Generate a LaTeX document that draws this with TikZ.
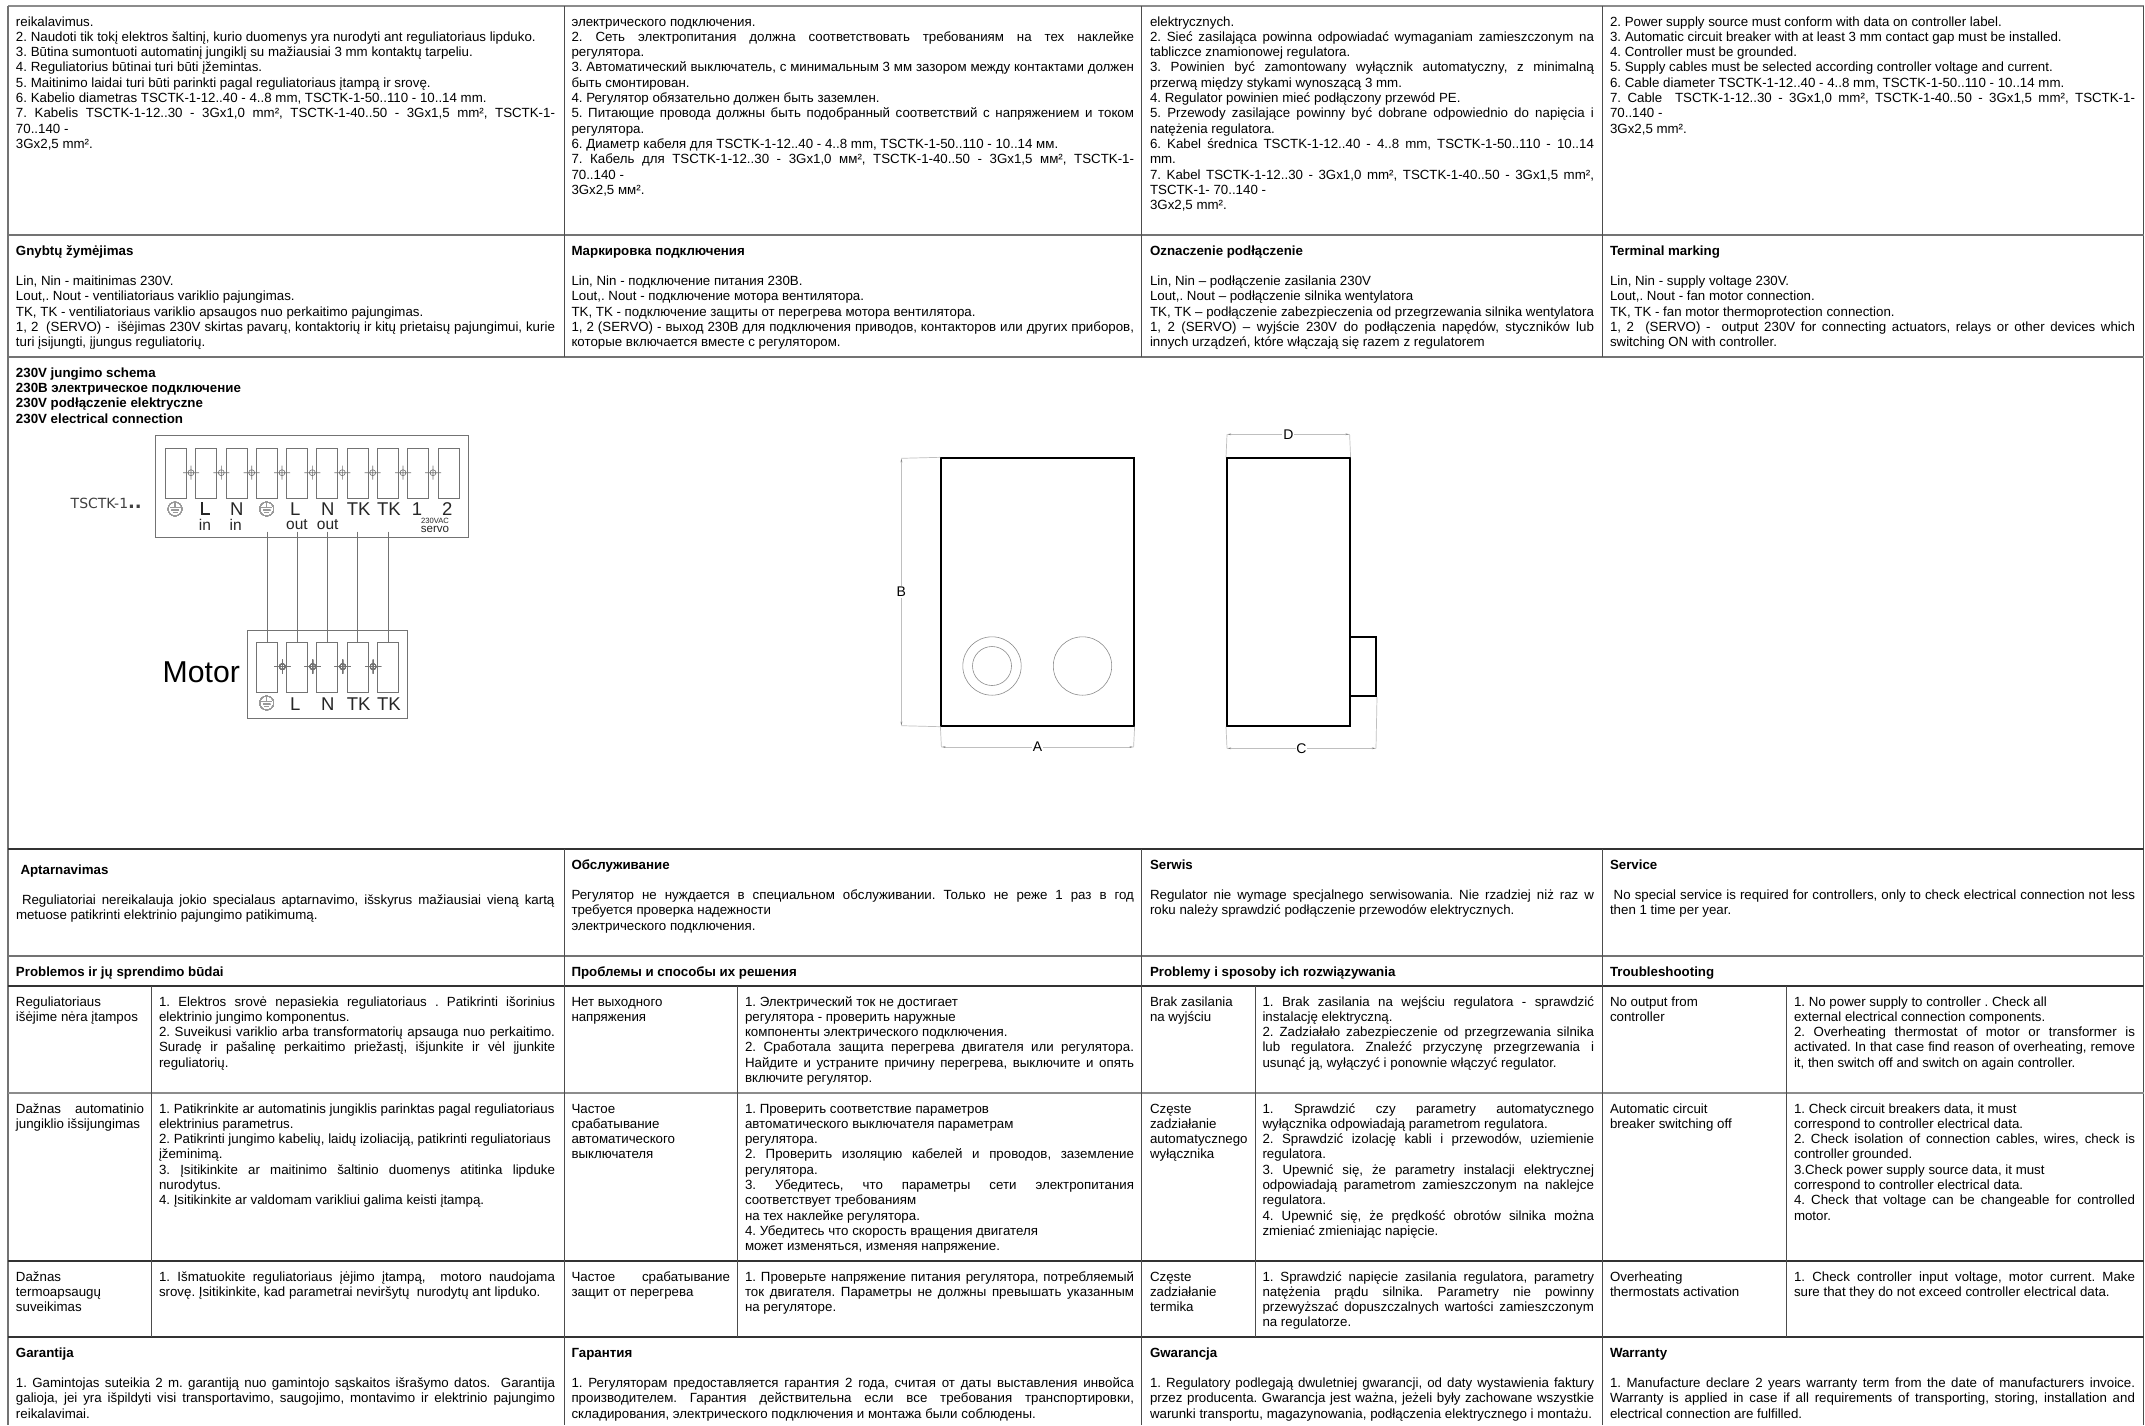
\documentclass[tikz,border=0pt]{standalone}
\usepackage{fontspec}
\setmainfont{Liberation Sans}
\newfontfamily\dejafont{DejaVu Sans}
\usetikzlibrary{arrows.meta}
\frenchspacing
\newcommand{\J}[1]{\hbox to \hsize{\rule{0pt}{10pt}#1}}
\newcommand{\R}[1]{\hbox{\rule{0pt}{10pt}#1}}
\newcommand{\Cell}[2]{\vtop{\hsize=#1pt\lineskiplimit=-100pt #2}}
\newcommand{\Screw}[2]{\draw[wire] (#1,#2) circle (3) (#1-8,#2) -- (#1+8,#2) (#1,#2-7) -- (#1,#2+7);}
\newcommand{\Gnd}[2]{\draw[gndline] (#1,#2) circle (7) (#1-5,#2-1.5) -- (#1+5,#2-1.5) (#1-3.5,#2+1) -- (#1+3.5,#2+1) (#1-2,#2+3.5) -- (#1+2,#2+3.5) (#1,#2-7) -- (#1,#2-1.5);}
\tikzset{
  x=1pt,y=-1pt,
  cell/.style={anchor=north west,inner sep=0pt,outer sep=0pt,font=\fontsize{13.3}{15.3}\selectfont},
  rowline/.style={draw=black!80,line width=1.4pt},
  softline/.style={draw=black!55,line width=1.6pt},
  colline/.style={draw=black!70,line width=1pt},
  wire/.style={draw=black!55,line width=0.6pt},
  gndline/.style={draw=black!40,line width=0.5pt},
  term/.style={draw=black!55,line width=0.7pt,minimum width=21pt,minimum height=50pt,inner sep=0pt},
  tlabel/.style={inner sep=0pt,font=\fontsize{18.5}{18.5}\selectfont,text=black!85},
  sublabel/.style={inner sep=0pt,font=\fontsize{15.5}{15.5}\selectfont,text=black!85},
  heavy/.style={draw=black,line width=2pt,inner sep=0pt},
  dim/.style={draw=black!25,line width=0.7pt},
  dimtip/.style={dim,{Stealth[length=4pt,width=1.6pt,color=black!50]}-{Stealth[length=4pt,width=1.6pt,color=black!50]}},
  dimlabel/.style={fill=white,inner sep=0.8pt,font=\fontsize{14}{14}\selectfont},
  hole/.style={draw=black!45,line width=0.6pt},
}
\begin{document}
\begin{tikzpicture}
\useasboundingbox (0,0) rectangle (2145,1425);
\fill[white] (0,0) rectangle (2145,1425);
% grid
\draw[draw=black!45,line width=1.4pt] (8,6) -- (2144,6);
\draw[draw=black!55,line width=1.8pt] (8,6) -- (8,1425);
\draw[colline] (2143.5,6) -- (2143.5,1425);
\draw[softline] (8,235) -- (2144,235);
\draw[softline] (8,357) -- (2144,357);
\draw[rowline] (8,849) -- (2144,849);
\draw[softline] (8,956) -- (2144,956);
\draw[rowline] (8,986) -- (2144,986);
\draw[softline,draw=black!45] (8,1093) -- (2144,1093);
\draw[rowline] (8,1261) -- (2144,1261);
\draw[rowline] (8,1337) -- (2144,1337);
\foreach \cx in {564,1141,1602} {
  \draw[colline] (\cx,6) -- (\cx,357);
  \draw[colline] (\cx,849) -- (\cx,1425);
}
\foreach \cx in {151,737,1255,1786} \draw[colline] (\cx,986) -- (\cx,1337);

% row 1
\node[cell] (a1) at (16,16) {\Cell{539}{
\R{reikalavimus.}
\R{2. Naudoti tik tokį elektros šaltinį, kurio duomenys yra nurodyti ant reguliatoriaus lipduko.}
\R{3. Būtina sumontuoti automatinį jungiklį su mažiausiai 3 mm kontaktų tarpeliu.}
\R{4. Reguliatorius būtinai turi būti įžemintas.}
\R{5. Maitinimo laidai turi būti parinkti pagal reguliatoriaus įtampą ir srovę.}
\R{6. Kabelio diametras TSCTK-1-12..40 - 4..8 mm, TSCTK-1-50..110 - 10..14 mm.}
\J{7. Kabelis TSCTK-1-12..30 - 3Gx1,0 mm², TSCTK-1-40..50 - 3Gx1,5 mm², TSCTK-1-}
\R{70..140 -}
\R{3Gx2,5 mm².}}};
\node[cell] (a2) at (571.5,16) {\Cell{562.5}{
\R{электрического подключения.}
\J{2. Сеть электропитания должна соответствовать требованиям на тех наклейке}
\R{регулятора.}
\J{3. Автоматический выключатель, с минимальным 3 мм зазором между контактами должен}
\R{быть смонтирован.}
\R{4. Регулятор обязательно должен быть заземлен.}
\J{5. Питающие провода должны быть подобранный соответствий с напряжением и током}
\R{регулятора.}
\R{6. Диаметр кабеля для TSCTK-1-12..40 - 4..8 mm, TSCTK-1-50..110 - 10..14 мм.}
\J{7. Кабель для TSCTK-1-12..30 - 3Gx1,0 мм², TSCTK-1-40..50 - 3Gx1,5 мм², TSCTK-1-}
\R{70..140 -}
\R{3Gx2,5 мм².}}};
\node[cell] (a3) at (1150,16) {\Cell{444}{
\R{elektrycznych.}
\J{2. Sieć zasilająca powinna odpowiadać wymaganiam zamieszczonym na}
\R{tabliczce znamionowej regulatora.}
\J{3. Powinien być zamontowany wyłącznik automatyczny, z minimalną}
\R{przerwą między stykami wynoszącą 3 mm.}
\R{4. Regulator powinien mieć podłączony przewód PE.}
\J{5. Przewody zasilające powinny być dobrane odpowiednio do napięcia i}
\R{natężenia regulatora.}
\J{6. Kabel średnica TSCTK-1-12..40 - 4..8 mm, TSCTK-1-50..110 - 10..14}
\R{mm.}
\J{7. Kabel TSCTK-1-12..30 - 3Gx1,0 mm², TSCTK-1-40..50 - 3Gx1,5 mm²,}
\R{TSCTK-1- 70..140 -}
\R{3Gx2,5 mm².}}};
\node[cell] (a4) at (1610,16) {\Cell{525}{
\R{2. Power supply source must conform with data on controller label.}
\R{3. Automatic circuit breaker with at least 3 mm contact gap must be installed.}
\R{4. Controller must be grounded.}
\R{5. Supply cables must be selected according controller voltage and current.}
\R{6. Cable diameter TSCTK-1-12..40 - 4..8 mm, TSCTK-1-50..110 - 10..14 mm.}
\J{7. Cable \ TSCTK-1-12..30 - 3Gx1,0 mm², TSCTK-1-40..50 - 3Gx1,5 mm², TSCTK-1-}
\R{70..140 -}
\R{3Gx2,5 mm².}}};

% row 2
\node[cell] (b1) at (16,245) {\Cell{539}{
\R{\textbf{Gnybtų žymėjimas}}
\R{}
\R{Lin, Nin - maitinimas 230V.}
\R{Lout,. Nout - ventiliatoriaus variklio pajungimas.}
\R{TK, TK - ventiliatoriaus variklio apsaugos nuo perkaitimo pajungimas.}
\J{1, 2 \ (SERVO) - \ išėjimas 230V skirtas pavarų, kontaktorių ir kitų prietaisų pajungimui, kurie}
\R{turi įsijungti, įjungus reguliatorių.}}};
\node[cell] (b2) at (571.5,245) {\Cell{562.5}{
\R{\textbf{Маркировка подключения}}
\R{}
\R{Lin, Nin - подключение питания 230В.}
\R{Lout,. Nout - подключение мотора вентилятора.}
\R{TK, TK - подключение защиты от перегрева мотора вентилятора.}
\J{1, 2 (SERVO) - выход 230В для подключения приводов, контакторов или других приборов,}
\R{которые включается вместе с регулятором.}}};
\node[cell] (b3) at (1150,245) {\Cell{444}{
\R{\textbf{Oznaczenie podłączenie}}
\R{}
\R{Lin, Nin – podłączenie zasilania 230V}
\R{Lout,. Nout – podłączenie silnika wentylatora}
\J{TK, TK – podłączenie zabezpieczenia od przegrzewania silnika wentylatora}
\J{1, 2 (SERVO) – wyjście 230V do podłączenia napędów, styczników lub}
\R{innych urządzeń, które włączają się razem z regulatorem}}};
\node[cell] (b4) at (1610,245) {\Cell{525}{
\R{\textbf{Terminal marking}}
\R{}
\R{Lin, Nin - supply voltage 230V.}
\R{Lout,. Nout - fan motor connection.}
\R{TK, TK - fan motor thermoprotection connection.}
\J{1, 2 \ (SERVO) - \ output 230V for connecting actuators, relays or other devices which}
\R{switching ON with controller.}}};

% diagram title
\node[cell] (title) at (16,367.3) {\Cell{500}{
\R{\textbf{230V jungimo schema}}
\R{\textbf{230В электрическое подключение}}
\R{\textbf{230V podłączenie elektryczne}}
\R{\textbf{230V electrical connection}}}};

% wiring diagram
\node[draw=black!55,line width=0.7pt,minimum width=312.6pt,minimum height=101.7pt,inner sep=0pt] (topbox) at (312,486.2) {};
\node[draw=black!55,line width=0.7pt,minimum width=160pt,minimum height=88.4pt,inner sep=0pt] (motbox) at (327.3,674.5) {};
\foreach \i/\cx in {1/175.8,2/206,3/236.7,4/267,5/297.3,6/327,7/357.8,8/387.8,9/418.3,10/448.8}
  \node[term] (t\i) at (\cx,473.3) {};
\foreach \i/\cx in {1/266.8,2/297.3,3/327,4/357.8,5/387.8}
  \node[term] (m\i) at (\cx,667.3) {};
\foreach \cx in {191,221.3,251.7,282,312.3,342.3,372.7,403,433} \Screw{\cx}{472.7}
\foreach \cx in {282.4,312.7,342.7,373.1} \Screw{\cx}{666.6}
\Gnd{175}{509}
\Gnd{266.7}{509}
\Gnd{266.7}{703}
\node[tlabel] (l1) at (204.7,509.5) {L};
\node[tlabel] (l2) at (236.7,509.5) {N};
\node[tlabel] (l3) at (295.3,509.5) {L};
\node[tlabel] (l4) at (327.7,509.5) {N};
\node[tlabel] (l5) at (358.7,509.5) {TK};
\node[tlabel] (l6) at (389,509.5) {TK};
\node[tlabel] (l7) at (417,509.5) {1};
\node[tlabel] (l8) at (447.3,509.5) {2};
\foreach \n/\cx/\txt in {s1/205/in,s2/235.7/in,s3/297/out,s4/327.7/out}
  \node[sublabel] (\n) at (\cx,524.5) {\txt};
\node[inner sep=0pt,font=\fontsize{7.6}{7.6}\selectfont,text=black!85] (v230) at (435,521) {230VAC};
\node[inner sep=0pt,font=\fontsize{11.6}{11.6}\selectfont,text=black!85] (servo) at (435,529) {servo};
\foreach \n/\cx/\txt in {k1/295.3/L,k2/327.7/N,k3/358.7/TK,k4/389/TK}
  \node[tlabel] (\n) at (\cx,703.7) {\txt};
\node[inner sep=0pt,anchor=west,font=\fontsize{14}{14}\selectfont\dejafont,text=black!75] (model) at (70.5,503) {TSCTK-1{\fontsize{18}{18}\selectfont\textbf{..}}};
\node[inner sep=0pt,anchor=west,font=\fontsize{30.2}{30.2}\selectfont] (motor) at (162.5,672) {Motor};
\foreach \i/\cx in {1/267.7,2/297,3/327.3,4/357.3,5/388} {
  \coordinate (w\i) at (\cx,531.7);
  \draw[wire,line width=0.7pt] (w\i) -- (w\i |- m\i.north);
}

% enclosure drawings
\node[heavy,minimum width=192.2pt,minimum height=267.4pt] (front) at (1037.5,592) {};
\node[heavy,minimum width=122.6pt,minimum height=267.4pt] (side) at (1288.3,592) {};
\node[heavy,minimum width=26.4pt,minimum height=59pt] (tab) at (1362.8,666.5) {};
\coordinate (hole1) at (992,666);
\coordinate (hole2) at (1082.5,666);
\draw[hole] (hole1) circle (29.2);
\draw[hole] (hole1) circle (19.5);
\draw[hole] (hole2) circle (29.2);

\coordinate (bT) at (901.4,458.3);
\coordinate (bB) at (901.4,725.7);
\draw[dim] (front.north west) -- (bT);
\draw[dim] (front.south west) -- (bB);
\draw[dimtip] (bT) -- (bB) node[midway,dimlabel,draw=none,text=black] (lB) {B};
\coordinate (aL) at (941.4,747);
\coordinate (aR) at (1133.6,747);
\draw[dim] (front.south west) -- (aL);
\draw[dim] (front.south east) -- (aR);
\draw[dimtip] (aL) -- (aR) node[midway,dimlabel,draw=none,text=black] (lA) {A};
\coordinate (dL) at (1227,434.3);
\coordinate (dR) at (1349.6,434.3);
\draw[dim] (side.north west) -- (dL);
\draw[dim] (side.north east) -- (dR);
\draw[dimtip] (dL) -- (dR) node[midway,dimlabel,draw=none,text=black] (lD) {D};
\coordinate (cL) at (1227,748.3);
\coordinate (cR) at (1376,748.3);
\draw[dim] (side.south west) -- (cL);
\draw[dim] (tab.south east) -- (cR);
\draw[dimtip] (cL) -- (cR) node[pos=.5,dimlabel,draw=none,text=black] (lC) {C};

% service row
\node[cell] (d1) at (20.5,864) {\Cell{534}{
\R{\textbf{Aptarnavimas}}
\R{}
\J{\hspace{1.5pt}Reguliatoriai nereikalauja jokio specialaus aptarnavimo, išskyrus mažiausiai vieną kartą}
\R{\hspace{-4.5pt}metuose patikrinti elektrinio pajungimo patikimumą.}}};
\node[cell] (d2) at (571.5,859) {\Cell{562.5}{
\R{\textbf{Обслуживание}}
\R{}
\J{Регулятор не нуждается в специальном обслуживании. Только не реже 1 раз в год}
\R{требуется проверка надежности}
\R{электрического подключения.}}};
\node[cell] (d3) at (1150,859) {\Cell{444}{
\R{\textbf{Serwis}}
\R{}
\J{Regulator nie wymage specjalnego serwisowania. Nie rzadziej niż raz w}
\R{roku należy sprawdzić podłączenie przewodów elektrycznych.}}};
\node[cell] (d4) at (1610,859) {\Cell{525}{
\R{\textbf{Service}}
\R{}
\J{\hspace{3.7pt}No special service is required for controllers, only to check electrical connection not less}
\R{then 1 time per year.}}};

% troubleshooting headings
\node[cell] (e1) at (16,966) {\R{\textbf{Problemos ir jų sprendimo būdai}}};
\node[cell] (e2) at (571.5,966) {\R{\textbf{Проблемы и способы их решения}}};
\node[cell] (e3) at (1150,966) {\R{\textbf{Problemy i sposoby ich rozwiązywania}}};
\node[cell] (e4) at (1610,966) {\R{\textbf{Troubleshooting}}};

% no output row
\node[cell] (f1) at (16,996) {\Cell{128}{\R{Reguliatoriaus}\R{išėjime nėra įtampos}}};
\node[cell] (f1b) at (159,996) {\Cell{396}{
\J{1. Elektros srovė nepasiekia reguliatoriaus . Patikrinti išorinius}
\R{elektrinio jungimo komponentus.}
\J{2. Suveikusi variklio arba transformatorių apsauga nuo perkaitimo.}
\J{Suradę ir pašalinę perkaitimo priežastį, išjunkite ir vėl įjunkite}
\R{reguliatorių.}}};
\node[cell] (f2) at (571.5,996) {\Cell{158.5}{\R{Нет выходного}\R{напряжения}}};
\node[cell] (f2b) at (745,996) {\Cell{389}{
\R{1. Электрический ток не достигает}
\R{регулятора - проверить наружные}
\R{компоненты электрического подключения.}
\J{2. Сработала защита перегрева двигателя или регулятора.}
\J{Найдите и устраните причину перегрева, выключите и опять}
\R{включите регулятор.}}};
\node[cell] (f3) at (1150,996) {\Cell{95}{\R{Brak zasilania}\R{na wyjściu}}};
\node[cell] (f3b) at (1262.5,996) {\Cell{331.5}{
\J{1. Brak zasilania na wejściu regulatora - sprawdzić}
\R{instalację elektryczną.}
\J{2. Zadziałało zabezpieczenie od przegrzewania silnika}
\J{lub regulatora. Znaleźć przyczynę przegrzewania i}
\R{usunąć ją, wyłączyć i ponownie włączyć regulator.}}};
\node[cell] (f4) at (1610,996) {\Cell{168}{\R{No output from}\R{controller}}};
\node[cell] (f4b) at (1794,996) {\Cell{341}{
\R{1. No power supply to controller . Check all}
\R{external electrical connection components.}
\J{2. Overheating thermostat of motor or transformer is}
\J{activated. In that case find reason of overheating, remove}
\R{it, then switch off and switch on again controller.}}};

% breaker row
\node[cell] (g1) at (16,1103) {\Cell{128}{\J{Dažnas automatinio}\R{jungiklio išsijungimas}}};
\node[cell] (g1b) at (159,1103) {\Cell{396}{
\R{1. Patikrinkite ar automatinis jungiklis parinktas pagal reguliatoriaus}
\R{elektrinius parametrus.}
\R{2. Patikrinti jungimo kabelių, laidų izoliaciją, patikrinti reguliatoriaus}
\R{įžeminimą.}
\J{3. Įsitikinkite ar maitinimo šaltinio duomenys atitinka lipduke}
\R{nurodytus.}
\R{4. Įsitikinkite ar valdomam varikliui galima keisti įtampą.}}};
\node[cell] (g2) at (571.5,1103) {\Cell{158.5}{\R{Частое}\R{срабатывание}\R{автоматического}\R{выключателя}}};
\node[cell] (g2b) at (745,1103) {\Cell{389}{
\R{1. Проверить соответствие параметров}
\R{автоматического выключателя параметрам}
\R{регулятора.}
\J{2. Проверить изоляцию кабелей и проводов, заземление}
\R{регулятора.}
\J{3. Убедитесь, что параметры сети электропитания}
\R{соответствует требованиям}
\R{на тех наклейке регулятора.}
\R{4. Убедитесь что скорость вращения двигателя}
\R{может изменяться, изменяя напряжение.}}};
\node[cell] (g3) at (1150,1103) {\Cell{95}{\R{Częste}\R{zadziałanie}\R{automatycznego}\R{wyłącznika}}};
\node[cell] (g3b) at (1262.5,1103) {\Cell{331.5}{
\J{1. Sprawdzić czy parametry automatycznego}
\R{wyłącznika odpowiadają parametrom regulatora.}
\J{2. Sprawdzić izolację kabli i przewodów, uziemienie}
\R{regulatora.}
\J{3. Upewnić się, że parametry instalacji elektrycznej}
\J{odpowiadają parametrom zamieszczonym na naklejce}
\R{regulatora.}
\J{4. Upewnić się, że prędkość obrotów silnika można}
\R{zmieniać zmieniając napięcie.}}};
\node[cell] (g4) at (1610,1103) {\Cell{168}{\R{Automatic circuit}\R{breaker switching off}}};
\node[cell] (g4b) at (1794,1103) {\Cell{341}{
\R{1. Check circuit breakers data, it must}
\R{correspond to controller electrical data.}
\J{2. Check isolation of connection cables, wires, check is}
\R{controller grounded.}
\R{3.Check power supply source data, it must}
\R{correspond to controller electrical data.}
\J{4. Check that voltage can be changeable for controlled}
\R{motor.}}};

% thermostat row
\node[cell] (h1) at (16,1271) {\Cell{128}{\R{Dažnas}\R{termoapsaugų}\R{suveikimas}}};
\node[cell] (h1b) at (159,1271) {\Cell{396}{
\J{1. Išmatuokite reguliatoriaus įėjimo įtampą, \ motoro naudojama}
\R{srovę. Įsitikinkite, kad parametrai neviršytų \ nurodytų ant lipduko.}}};
\node[cell] (h2) at (571.5,1271) {\Cell{158.5}{\J{Частое срабатывание}\R{защит от перегрева}}};
\node[cell] (h2b) at (745,1271) {\Cell{389}{
\J{1. Проверьте напряжение питания регулятора, потребляемый}
\J{ток двигателя. Параметры не должны превышать указанным}
\R{на регуляторе.}}};
\node[cell] (h3) at (1150,1271) {\Cell{95}{\R{Częste}\R{zadziałanie}\R{termika}}};
\node[cell] (h3b) at (1262.5,1271) {\Cell{331.5}{
\J{1. Sprawdzić napięcie zasilania regulatora, parametry}
\J{natężenia prądu silnika. Parametry nie powinny}
\J{przewyższać dopuszczalnych wartości zamieszczonym}
\R{na regulatorze.}}};
\node[cell] (h4) at (1610,1271) {\Cell{168}{\R{Overheating}\R{thermostats activation}}};
\node[cell] (h4b) at (1794,1271) {\Cell{341}{
\J{1. Check controller input voltage, motor current. Make}
\R{sure that they do not exceed controller electrical data.}}};

% warranty
\node[cell] (i1) at (16,1347) {\Cell{539}{
\R{\textbf{Garantija}}
\R{}
\J{1. Gamintojas suteikia 2 m. garantiją nuo gamintojo sąskaitos išrašymo datos. \ Garantija}
\J{galioja, jei yra išpildyti visi transportavimo, saugojimo, montavimo ir elektrinio pajungimo}
\R{reikalavimai.}}};
\node[cell] (i2) at (571.5,1347) {\Cell{562.5}{
\R{\textbf{Гарантия}}
\R{}
\J{1. Регуляторам предоставляется гарантия 2 года, считая от даты выставления инвойса}
\J{производителем. Гарантия действительна если все требования транспортировки,}
\R{складирования, электрического подключения и монтажа были соблюдены.}}};
\node[cell] (i3) at (1150,1347) {\Cell{444}{
\R{\textbf{Gwarancja}}
\R{}
\J{1. Regulatory podlegają dwuletniej gwarancji, od daty wystawienia faktury}
\J{przez producenta. Gwarancja jest ważna, jeżeli były zachowane wszystkie}
\R{warunki transportu, magazynowania, podłączenia elektrycznego i montażu.}}};
\node[cell] (i4) at (1610,1347) {\Cell{525}{
\R{\textbf{Warranty}}
\R{}
\J{1. Manufacture declare 2 years warranty term from the date of manufacturers invoice.}
\J{Warranty is applied in case if all requirements of transporting, storing, installation and}
\R{electrical connection are fulfilled.}}};
\end{tikzpicture}
\end{document}
